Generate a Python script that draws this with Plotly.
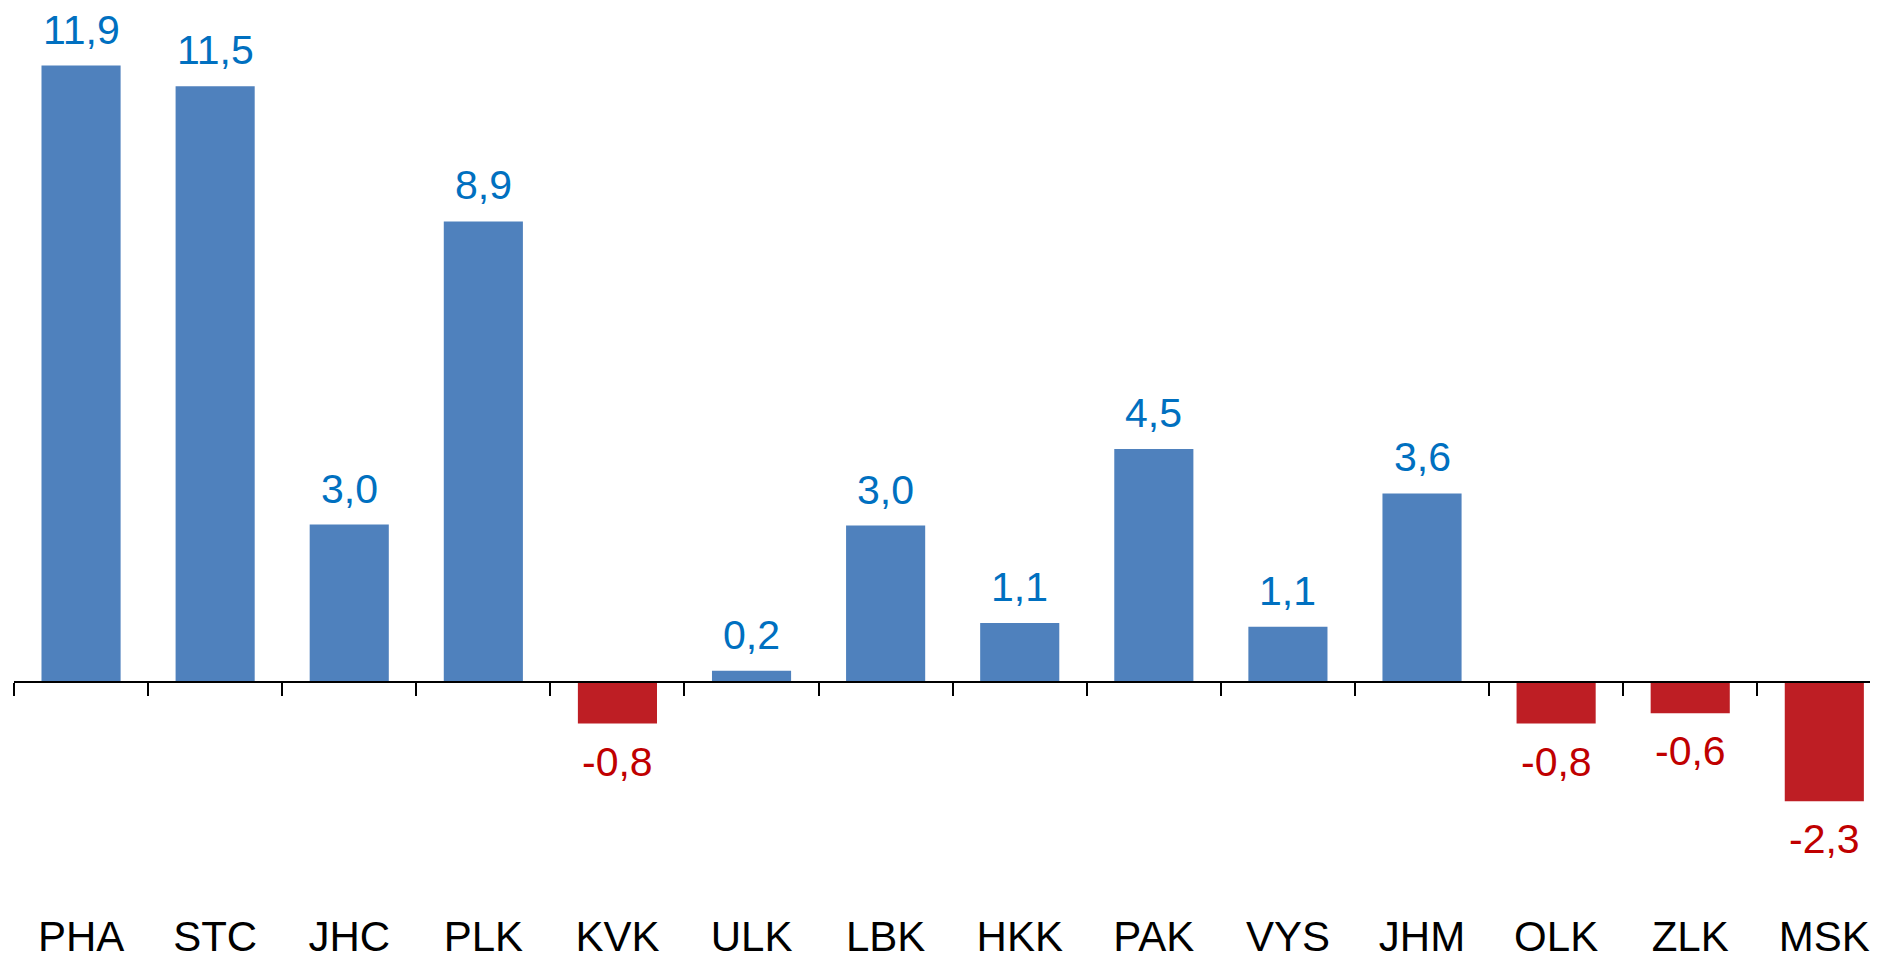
import plotly.graph_objects as go

# Kraje a hodnoty
kraje = ['PHA', 'STC', 'JHC', 'PLK', 'KVK', 'ULK', 'LBK', 'HKK', 'PAK', 'VYS', 'JHM', 'OLK', 'ZLK', 'MSK']
hodnoty = [11.9, 11.5, 3.04, 8.89, -0.8, 0.22, 3.02, 1.14, 4.5, 1.07, 3.64, -0.8, -0.6, -2.3]

BAR_KLADNE = '#4F81BD'
BAR_ZAPORNE = '#BE1E24'
TXT_KLADNE = '#0070C0'
TXT_ZAPORNE = '#C00000'

W, H = 1878, 957
# stránka má okraj 8 px, proto je vše posunuté o 8 px doleva a nahoru
y_min, y_max = -5.46, 13.01

fig = go.Figure()

fig.add_trace(go.Bar(
    x=kraje,
    y=hodnoty,
    marker=dict(color=[BAR_KLADNE if v >= 0 else BAR_ZAPORNE for v in hodnoty], line=dict(width=0)),
    hoverinfo='x+y',
))

# popisky hodnot nad / pod sloupci
for k, v in zip(kraje, hodnoty):
    kladna = v >= 0
    fig.add_annotation(
        x=k, y=v,
        text=f'{v:.1f}'.replace('.', ','),
        showarrow=False,
        xanchor='center',
        yanchor='bottom' if kladna else 'top',
        yshift=11 if kladna else -13,
        font=dict(size=41, color=TXT_KLADNE if kladna else TXT_ZAPORNE,
                  family='Liberation Sans, Arial, sans-serif'),
    )

fig.update_layout(
    width=W, height=H,
    margin=dict(l=0, r=0, t=0, b=0),
    plot_bgcolor='white',
    paper_bgcolor='white',
    showlegend=False,
    bargap=0.41,
    font=dict(family='Liberation Sans, Arial, sans-serif', color='black'),
    xaxis=dict(
        type='category',
        domain=[6 / W, 1],
        range=[-0.5, 13.46],
        anchor='free',
        position=(0 - y_min) / (y_max - y_min),
        showline=True, linecolor='black', linewidth=2,
        ticks='outside', tickson='boundaries', ticklen=13, tickwidth=2, tickcolor='black',
        tickfont=dict(size=42, color='black'),
        ticklabelstandoff=218,
        showgrid=False, zeroline=False,
        automargin=False,
    ),
    yaxis=dict(
        range=[y_min, y_max],
        visible=False,
        showgrid=False, zeroline=False,
        automargin=False,
    ),
)

fig.write_html('out.html')
